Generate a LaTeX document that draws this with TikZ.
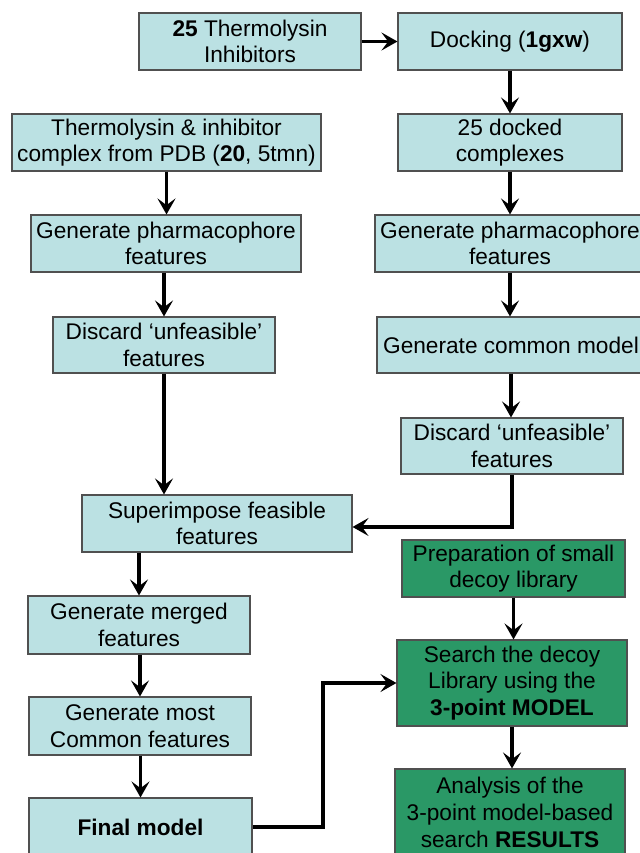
\documentclass[tikz,border=0pt]{standalone}
\usepackage{fontspec}
\setmainfont{Liberation Sans}
\usetikzlibrary{arrows.meta}
\definecolor{boxblue}{RGB}{187,225,227}
\definecolor{boxgreen}{RGB}{42,152,102}
\definecolor{boxline}{RGB}{80,80,80}

\begin{document}
\begin{tikzpicture}[x=0.75pt,y=-0.75pt,
    stepbox/.style 2 args={draw=boxline,line width=0.8pt,fill=boxblue,inner sep=0pt,
      align=center,font=\fontsize{17}{20}\selectfont,
      minimum width=#1*0.75pt,minimum height=#2*0.75pt},
    decoybox/.style 2 args={stepbox={#1}{#2},fill=boxgreen},
    flow/.style={line width=2.6pt,-{Stealth[length=12pt,width=13.5pt,inset=5pt]}}]
      \useasboundingbox (0,0) rectangle (639,853);
      % left branch
      \node[stepbox={222}{57}] (inhib) at (250,41.5) {\textbf{25} Thermolysin\\Inhibitors};
      \node[stepbox={309}{57}] (pdb) at (166.5,142.5) {Thermolysin \& inhibitor\\complex from PDB (\textbf{20}, 5tmn)};
      \node[stepbox={270}{57}] (genL) at (166,243.5) {Generate pharmacophore\\features};
      \node[stepbox={222}{56}] (discL) at (164,345) {Discard `unfeasible'\\features};
      \node[stepbox={270}{57}] (superimp) at (217,523.5) {Superimpose feasible\\features};
      \node[stepbox={222}{58}] (merged) at (139,625) {Generate merged\\features};
      \node[stepbox={222}{58}] (most) at (140,726) {Generate most\\Common features};
      \node[stepbox={223}{58}] (final) at (140.5,827) {\textbf{Final model}};
      % right branch
      \node[stepbox={224}{57}] (dock) at (510,41.5) {Docking (\textbf{1gxw})};
      \node[stepbox={224}{57}] (docked) at (510,142.5) {25 docked\\complexes};
      \node[stepbox={270}{57}] (genR) at (510,243.5) {Generate pharmacophore\\features};
      \node[stepbox={268}{56}] (common) at (511,345) {Generate common model};
      \node[stepbox={222}{56}] (discR) at (512,446) {Discard `unfeasible'\\features};
      % decoy search
      \node[decoybox={223}{57}] (prep) at (513.5,568.5) {Preparation of small\\decoy library};
      \node[decoybox={230}{86}] (search) at (512,683) {Search the decoy\\Library using the\\\textbf{3-point MODEL}};
      \node[decoybox={230}{87}] (analysis) at (510,812.5) {Analysis of the\\3-point model-based\\search \textbf{RESULTS}};
      \coordinate (elbow) at (323,827);

      \draw[flow] (inhib.east) -- (dock.west);
      \foreach \a/\b in {dock/docked,docked/genR,genR/common,common/discR,
                         pdb/genL,discL/superimp,prep/search,search/analysis} {
        \draw[flow] (\a.south) -- (\a.south |- \b.north);
      }
      \foreach \a/\b in {genL/discL,superimp/merged,merged/most,most/final} {
        \draw[flow] (\b.north |- \a.south) -- (\b.north);
      }
      \draw[flow] (discR.south) |- ([yshift=-2.6pt]superimp.east);
      \draw[flow] (final.east) -- (elbow) |- (search.west);
    \end{tikzpicture}
\end{document}
